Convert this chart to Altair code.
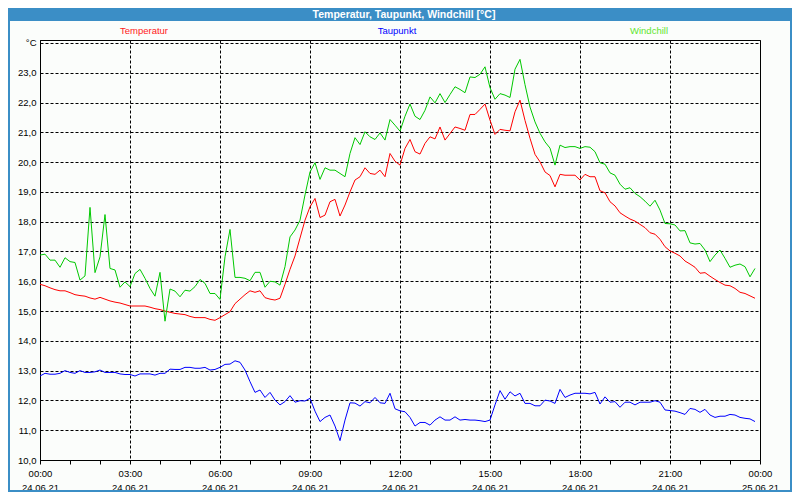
import altair as alt
import pandas as pd

series_names = ["Temperatur", "Taupunkt", "Windchill"]
series_colors = ["#ff0000", "#0000ff", "#00c800"]
legend_colors = ["#ff1a1a", "#0000ff", "#5ee62e"]
chart_title = "Temperatur, Taupunkt, Windchill [°C]"
date_first = "24.06.21"
date_next = "25.06.21"
step_minutes = 10

temperatur = [
    15.90, 15.85, 15.78, 15.72, 15.68, 15.68, 15.62, 15.55, 15.52, 15.50,
    15.44, 15.40, 15.46, 15.40, 15.34, 15.30, 15.27, 15.22, 15.17, 15.17,
    15.17, 15.17, 15.13, 15.08, 15.05, 15.00, 14.96, 14.92, 14.90, 14.88,
    14.82, 14.78, 14.78, 14.78, 14.72, 14.69, 14.78, 14.88, 14.98, 15.25,
    15.40, 15.55, 15.68, 15.63, 15.68, 15.45, 15.40, 15.37, 15.43,
    15.90, 16.40, 16.85, 17.45, 18.05, 18.50, 18.78, 18.14, 18.22, 18.67,
    18.75, 18.19, 18.56, 19.00, 19.40, 19.51, 19.81, 19.62, 19.59, 19.73,
    19.51, 20.29, 20.03, 19.90, 20.46, 20.76, 20.35, 20.27, 20.63, 20.85,
    20.78, 21.18, 20.74, 20.96, 21.18, 21.13, 21.07, 21.60, 21.60, 21.77,
    21.95, 21.41, 20.93, 21.10, 21.07, 21.05, 21.69, 22.08, 21.40, 20.80,
    20.26, 20.01, 19.67, 19.55, 19.17, 19.59, 19.56, 19.56, 19.56, 19.40,
    19.59, 19.51, 19.51, 19.04, 18.97, 18.67, 18.53, 18.30, 18.19, 18.09,
    18.02, 17.91, 17.80, 17.63, 17.58, 17.41, 17.16, 17.02, 16.94, 16.85,
    16.68, 16.58, 16.47, 16.27, 16.29, 16.17, 16.06, 15.96, 15.87, 15.85,
    15.76, 15.63, 15.59, 15.51, 15.43,
]

taupunkt = [
    12.82, 12.91, 12.88, 12.88, 12.91, 13.00, 12.94, 12.91, 13.00, 12.94,
    12.94, 12.96, 13.02, 12.94, 12.94, 12.94, 12.89, 12.87, 12.87, 12.82,
    12.89, 12.89, 12.89, 12.85, 12.91, 12.91, 13.05, 13.04, 13.04, 13.11,
    13.11, 13.08, 13.08, 13.11, 13.02, 13.04, 13.11, 13.21, 13.22, 13.33,
    13.28, 13.02, 12.63, 12.27, 12.35, 12.10, 12.27, 12.01, 11.85, 11.96,
    12.16, 11.94, 11.99, 11.98, 12.07, 11.64, 11.29, 11.43, 11.51, 11.14,
    10.65, 11.34, 11.92, 11.91, 11.81, 11.96, 11.92, 12.10, 11.92, 11.90,
    12.24, 11.72, 11.65, 11.62, 11.43, 11.14, 11.26, 11.26, 11.17, 11.34,
    11.45, 11.34, 11.34, 11.45, 11.34, 11.36, 11.34, 11.34, 11.32, 11.29,
    11.34, 11.85, 12.33, 12.04, 12.29, 12.15, 12.24, 11.90, 11.90, 11.82,
    11.82, 12.01, 11.98, 11.90, 12.37, 12.10, 12.18, 12.24, 12.24, 12.24,
    12.22, 12.27, 11.88, 12.12, 11.94, 11.96, 11.77, 11.94, 11.94, 11.85,
    11.94, 11.94, 11.94, 11.99, 11.94, 11.68, 11.66, 11.64, 11.59, 11.53,
    11.73, 11.70, 11.60, 11.70, 11.51, 11.43, 11.47, 11.47, 11.53, 11.51,
    11.43, 11.40, 11.38, 11.29,
]

windchill = [
    16.88, 16.91, 16.71, 16.71, 16.47, 16.79, 16.66, 16.63, 16.04, 16.18,
    18.48, 16.29, 16.82, 18.24, 16.43, 16.38, 15.80, 15.98, 15.82, 16.26,
    16.40, 16.10, 15.76, 15.50, 16.30, 14.66, 15.74, 15.67, 15.48, 15.70,
    15.67, 15.82, 16.06, 15.93, 15.59, 15.59, 15.39, 16.82, 17.74, 16.13,
    16.13, 16.10, 16.02, 16.30, 16.30, 15.80, 16.00, 15.98, 15.87,
    16.49, 17.49, 17.72, 18.05, 18.90, 19.67, 19.98, 19.42, 19.81, 19.73,
    19.73, 19.62, 19.51, 20.29, 20.82, 20.59, 21.02, 20.85, 20.76, 20.98,
    20.74, 21.43, 21.24, 21.04, 21.54, 21.95, 21.54, 21.43, 21.74, 22.19,
    21.99, 22.30, 22.00, 22.27, 22.53, 22.44, 22.33, 22.86, 22.84, 22.95,
    23.20, 22.50, 22.11, 22.30, 22.25, 22.17, 23.12, 23.45, 22.60, 21.85,
    21.35, 20.97, 20.68, 20.47, 19.90, 20.57, 20.49, 20.52, 20.52, 20.46,
    20.52, 20.50, 20.35, 19.98, 19.93, 19.64, 19.56, 19.26, 19.09, 19.14,
    18.95, 18.84, 18.69, 18.52, 18.72, 18.39, 17.94, 17.93, 17.89, 17.69,
    17.70, 17.29, 17.25, 17.27, 17.05, 16.66, 16.88, 17.05, 16.77, 16.47,
    16.54, 16.58, 16.49, 16.15, 16.43,
]

rows = []
for name, vals in zip(series_names, [temperatur, taupunkt, windchill]):
    for i, v in enumerate(vals):
        rows.append({"h": i * step_minutes / 60.0, "v": v, "s": name})
df = pd.DataFrame(rows)

FONT = "Liberation Sans"
BLUE = "#3b8ec6"

x_label_expr = (
    "datum.value % 3 == 0 ? ["
    "(datum.value % 24 < 10 ? '0' : '') + (datum.value % 24) + ':00', "
    f"datum.value < 24 ? '{date_first}' : '{date_next}'] : ''"
)
y_label_expr = "datum.value == 24 ? '°C' : replace(format(datum.value, '.1f'), '.', ',')"

x_axis = alt.Axis(
    values=list(range(0, 25)), title=None, grid=True, gridColor="#000000",
    gridDash=[3, 2], gridWidth=1,
    gridOpacity={"condition": {"test": "datum.value % 3 == 0", "value": 1}, "value": 0},
    tickSize=4, tickColor="#000000", domainColor="#000000",
    labelExpr=x_label_expr, labelOverlap=False, labelFlush=False,
    labelFont=FONT, labelFontSize=9.5, labelColor="#000000",
    labelBaseline="top", labelPadding=4.5, labelLineHeight=14,
)
y_axis = alt.Axis(
    values=list(range(10, 25)), title=None, grid=True, gridColor="#000000",
    gridDash=[3, 2], gridWidth=1, ticks=False, domainColor="#000000",
    labelExpr=y_label_expr, labelFont=FONT, labelFontSize=9.5,
    labelColor="#000000", labelPadding=4, labelOverlap=False, labelFlush=False,
)

lines = alt.Chart(df).mark_line(strokeWidth=1).encode(
    x=alt.X("h:Q", scale=alt.Scale(domain=[0, 24], nice=False, zero=False), axis=x_axis),
    y=alt.Y("v:Q", scale=alt.Scale(domain=[10, 24.1], nice=False, zero=False), axis=y_axis),
    color=alt.Color("s:N", scale=alt.Scale(domain=series_names, range=series_colors), legend=None),
)

blank = alt.Data(values=[{}])
frame = alt.Chart(blank).mark_rect(filled=False, stroke=BLUE, strokeWidth=2).encode(
    x=alt.value(-31), x2=alt.value(751), y=alt.value(-31), y2=alt.value(451)
)
titlebar = alt.Chart(blank).mark_rect(color=BLUE).encode(
    x=alt.value(-32), x2=alt.value(752), y=alt.value(-32), y2=alt.value(-19)
)
title = alt.Chart(blank).mark_text(
    text=chart_title, color="#ffffff", font=FONT, fontSize=10.5, fontWeight="bold",
    align="center", baseline="middle",
).encode(x=alt.value(364), y=alt.value(-25.5))

legend_x = [104, 357, 609]
legend_layers = []
for name, col, lx in zip(series_names, legend_colors, legend_x):
    legend_layers.append(
        alt.Chart(blank).mark_text(
            text=name, color=col, font=FONT, fontSize=9.5, align="center", baseline="middle"
        ).encode(x=alt.value(lx), y=alt.value(-9))
    )

chart = alt.layer(frame, titlebar, title, *legend_layers, lines).properties(
    width=720, height=420,
    padding={"left": 32, "top": 32, "right": 32, "bottom": 32},
    autosize=alt.AutoSizeParams(type="none"),
    background="#fbfdfb",
).configure_view(stroke="#000000", strokeWidth=1)

chart.save("out.html", embed_options={"renderer": "svg", "actions": False})
